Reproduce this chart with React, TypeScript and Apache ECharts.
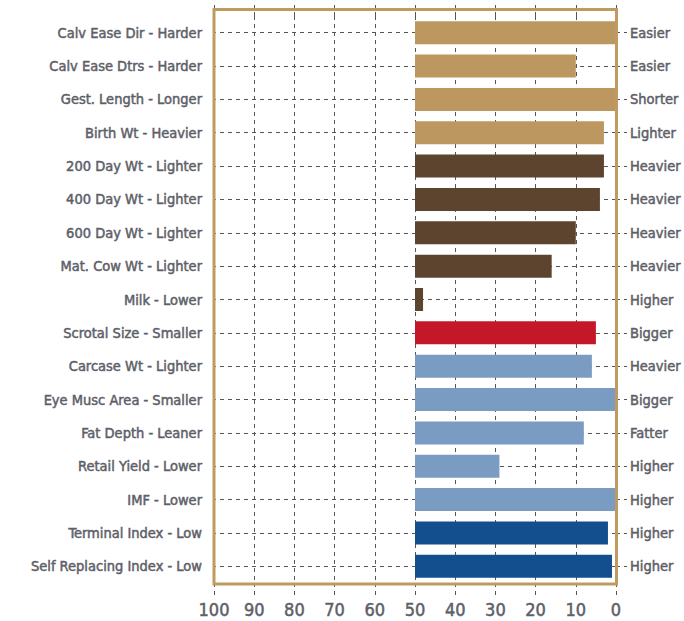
import React, { useEffect, useRef } from "react";
import * as echarts from "echarts";

const categories = [
  "Calv Ease Dir - Harder",
  "Calv Ease Dtrs - Harder",
  "Gest. Length - Longer",
  "Birth Wt - Heavier",
  "200 Day Wt - Lighter",
  "400 Day Wt - Lighter",
  "600 Day Wt - Lighter",
  "Mat. Cow Wt - Lighter",
  "Milk - Lower",
  "Scrotal Size - Smaller",
  "Carcase Wt - Lighter",
  "Eye Musc Area - Smaller",
  "Fat Depth - Leaner",
  "Retail Yield - Lower",
  "IMF - Lower",
  "Terminal Index - Low",
  "Self Replacing Index - Low",
];

const rightLabels = [
  "Easier", "Easier", "Shorter", "Lighter", "Heavier", "Heavier", "Heavier", "Heavier",
  "Higher", "Bigger", "Heavier", "Bigger", "Fatter", "Higher", "Higher", "Higher", "Higher",
];

// percentile band values (bars drawn from 50 toward the value)
const values = [0, 10, 0, 3, 3, 4, 10, 16, 48, 5, 6, 0, 8, 29, 0, 2, 1];

const groups = [
  "gold", "gold", "gold", "gold",
  "brown", "brown", "brown", "brown", "brown",
  "red",
  "lightblue", "lightblue", "lightblue", "lightblue", "lightblue",
  "darkblue", "darkblue",
];

const xTicks = { min: 0, max: 100, interval: 10 };
const baseline = 50;

const groupColors: Record<string, string> = {
  gold: "#BC9860",
  brown: "#5C442E",
  red: "#C41829",
  lightblue: "#7B9CC2",
  darkblue: "#134E8E",
};

const TEXT = "#5E5F69";
const GRID = "#555555";
const FONT = "'Liberation Sans Narrow', 'DejaVu Sans Condensed', Roboto, sans-serif";

export default function App() {
  const ref = useRef<HTMLDivElement>(null);
  useEffect(() => {
    document.body.style.margin = "0";
    if (!ref.current) return;
    const chart = echarts.init(ref.current, null, { renderer: "svg" });
    const dashed = { color: GRID, type: [4, 4] as any, width: 1 };
    const labelStyle = {
      color: TEXT,
      fontFamily: FONT,
      textBorderColor: TEXT,
      textBorderWidth: 0.5,
    };
    chart.setOption({
      animation: false,
      grid: { left: 214, right: 68, top: 16, bottom: 38, containLabel: false },
      xAxis: [
        {
          type: "value",
          min: xTicks.min,
          max: xTicks.max,
          interval: xTicks.interval,
          inverse: true,
          position: "bottom",
          axisLine: { show: false },
          axisTick: { show: true, length: 12, lineStyle: dashed },
          splitLine: { show: true, lineStyle: dashed },
          axisLabel: { ...labelStyle, fontSize: 18, margin: 17 },
        },
        {
          type: "value",
          min: xTicks.min,
          max: xTicks.max,
          interval: xTicks.interval,
          inverse: true,
          position: "top",
          axisLine: { show: false },
          axisTick: { show: true, length: 11, lineStyle: dashed },
          splitLine: { show: false },
          axisLabel: { show: false },
        },
      ],
      yAxis: [
        {
          type: "category",
          data: categories,
          inverse: true,
          position: "left",
          axisLine: { show: false },
          axisTick: { show: true, alignWithLabel: true, length: 10, lineStyle: dashed },
          axisLabel: { ...labelStyle, fontSize: 14.5, margin: 12 },
        },
        {
          type: "category",
          data: categories,
          inverse: true,
          position: "right",
          axisLine: { show: false },
          axisTick: { show: true, alignWithLabel: true, length: 11, lineStyle: dashed },
          axisLabel: {
            ...labelStyle,
            fontSize: 14.5,
            margin: 14,
            formatter: (_v: string, i: number) => rightLabels[i],
          },
        },
      ],
      series: [
        {
          type: "bar",
          stack: "s",
          yAxisIndex: 0,
          xAxisIndex: 0,
          data: values,
          itemStyle: { color: "transparent" },
          barWidth: 23,
          silent: true,
          z: 1,
          markLine: {
            silent: true,
            symbol: "none",
            z: 1,
            label: { show: false },
            lineStyle: dashed,
            data: categories.map((c) => ({ yAxis: c })),
          },
        },
        {
          type: "bar",
          stack: "s",
          yAxisIndex: 0,
          xAxisIndex: 0,
          barWidth: 23,
          z: 3,
          data: values.map((v, i) => ({
            value: baseline - v,
            itemStyle: { color: groupColors[groups[i]] },
          })),
        },
      ],
      graphic: [
        {
          type: "rect",
          z: 100,
          shape: { x: 214, y: 9.5, width: 402.5, height: 574.5 },
          style: { fill: "none", stroke: "#BF9B62", lineWidth: 3 },
        },
      ],
    });
    return () => chart.dispose();
  }, []);
  return <div ref={ref} style={{ width: 684, height: 621 }} />;
}
